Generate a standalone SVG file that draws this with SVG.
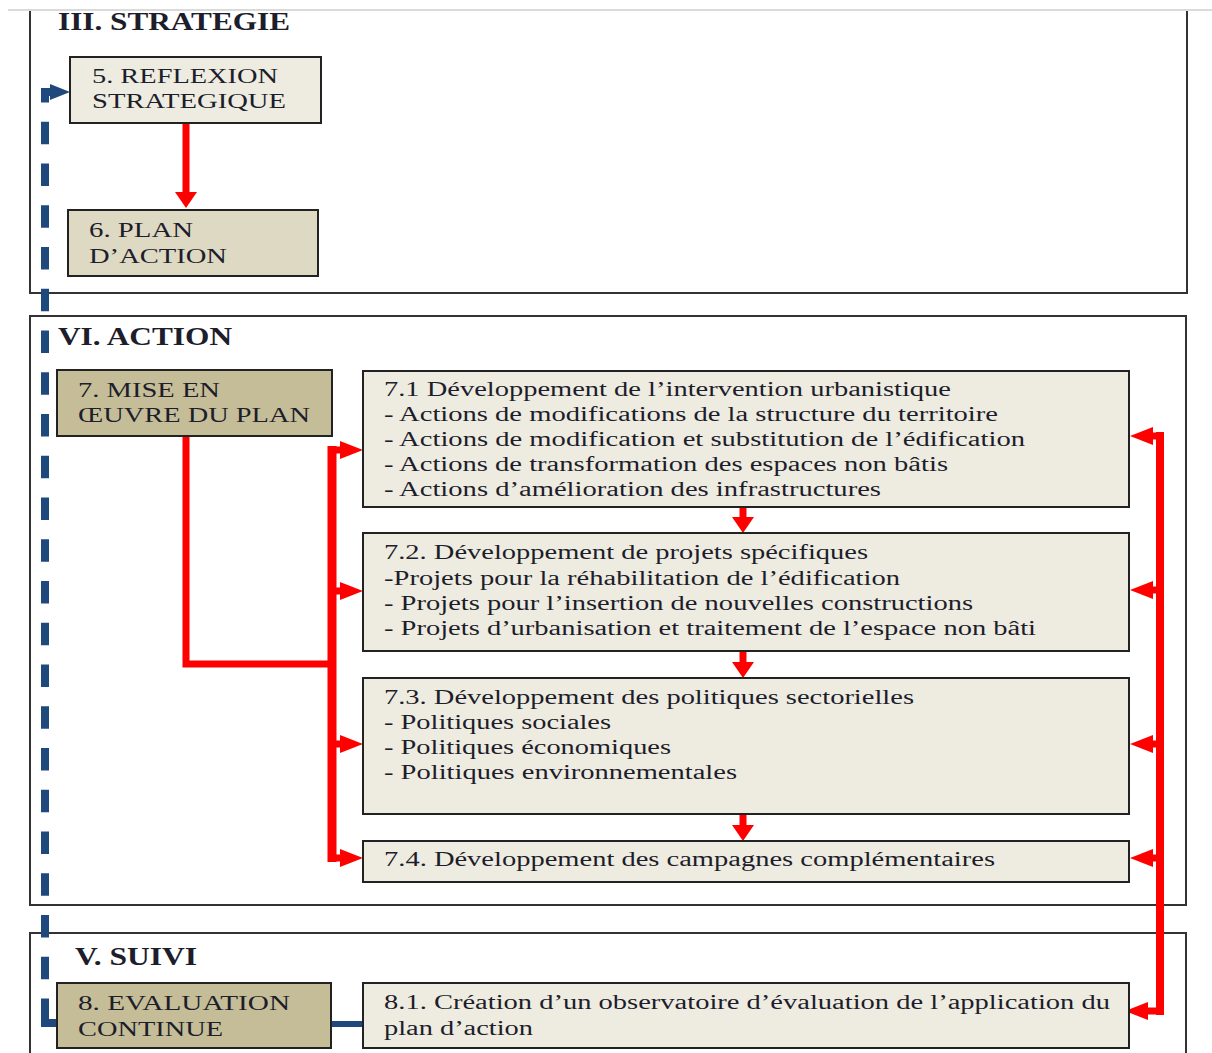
<svg xmlns="http://www.w3.org/2000/svg" width="1212" height="1053" viewBox="0 0 1212 1053">
<style>
.sec{fill:#fff;stroke:#333;stroke-width:2}
.box{stroke:#222;stroke-width:2}
.light{fill:#EEECE1}
.mid{fill:#DDD9C3}
.dark{fill:#C4BD97}
text{font-family:"Liberation Serif","Times New Roman",serif;fill:#1d1d2b}
.title{font-size:25px;font-weight:bold}
.lbl{font-size:22px}
.body{font-size:20px}
.red{fill:none;stroke:#FF0000;stroke-linejoin:miter}
.blue{fill:none;stroke:#1F497D;stroke-width:8}
</style>
<defs>
<marker id="aSide" viewBox="0 -10 24 20" refX="0" refY="0" markerWidth="24" markerHeight="20" markerUnits="userSpaceOnUse" orient="auto">
<path d="M0,-9 L23,0 L0,9 z" fill="#FF0000"/>
</marker>
<marker id="aDown" viewBox="0 -12 17 24" refX="0" refY="0" markerWidth="17" markerHeight="24" markerUnits="userSpaceOnUse" orient="auto">
<path d="M0,-11 L16,0 L0,11 z" fill="#FF0000"/>
</marker>
<marker id="aBlue" viewBox="0 -9 21 18" refX="0" refY="0" markerWidth="21" markerHeight="18" markerUnits="userSpaceOnUse" orient="auto">
<path d="M0,-8 L20,0 L0,8 z" fill="#1F497D"/>
</marker>
</defs>

<line x1="8" y1="10" x2="1212" y2="10" stroke="#dadada" stroke-width="2"/>

<g id="sec-strategie">
<path d="M30,11 V293 H1187 V11" fill="#fff" stroke="#333" stroke-width="2"/>
<text class="title" x="58" y="30" textLength="232" lengthAdjust="spacingAndGlyphs">III. STRATEGIE</text>
</g>
<g id="sec-action">
<rect class="sec" x="30" y="316" width="1156" height="589"/>
<text class="title" x="58" y="345" textLength="174" lengthAdjust="spacingAndGlyphs">VI. ACTION</text>
</g>
<g id="sec-suivi">
<rect class="sec" x="30" y="933" width="1156" height="130"/>
<text class="title" x="75" y="965" textLength="122" lengthAdjust="spacingAndGlyphs">V. SUIVI</text>
</g>

<g id="connectors">
<path class="blue" d="M57,92 H45 V1023" stroke-dasharray="22.5 19.25"/>
<path class="blue" d="M45,1000 V1023 H57" stroke-linejoin="miter"/>
<path d="M44,92 H50" stroke="#1F497D" stroke-width="6" marker-end="url(#aBlue)"/>
<path d="M331,1024 H363" stroke="#1F497D" stroke-width="6"/>

<path class="red" stroke-width="7" d="M186,123 V192" marker-end="url(#aDown)"/>
<path class="red" stroke-width="7" d="M743,507 V517" marker-end="url(#aDown)"/>
<path class="red" stroke-width="7" d="M743,651 V662" marker-end="url(#aDown)"/>
<path class="red" stroke-width="7" d="M743,814 V825" marker-end="url(#aDown)"/>

<path class="red" stroke-width="7" d="M186,436 V664 H332"/>
<path class="red" stroke-width="9" d="M332,446 V862"/>
<path class="red" stroke-width="7" d="M328,450 H340" marker-end="url(#aSide)"/>
<path class="red" stroke-width="7" d="M332,591 H340" marker-end="url(#aSide)"/>
<path class="red" stroke-width="7" d="M332,744 H340" marker-end="url(#aSide)"/>
<path class="red" stroke-width="7" d="M328,858 H340" marker-end="url(#aSide)"/>

<path class="red" stroke-width="8" d="M1160,432 V1015"/>
<path class="red" stroke-width="7" d="M1164,436 H1153" marker-end="url(#aSide)"/>
<path class="red" stroke-width="7" d="M1160,590 H1153" marker-end="url(#aSide)"/>
<path class="red" stroke-width="7" d="M1160,744 H1153" marker-end="url(#aSide)"/>
<path class="red" stroke-width="7" d="M1160,858 H1153" marker-end="url(#aSide)"/>
<path class="red" stroke-width="7" d="M1164,1011 H1148" marker-end="url(#aSide)"/>
</g>

<g id="n5">
<rect class="box light" x="70" y="57" width="251" height="66"/>
<text class="lbl" x="92" y="83" textLength="186" lengthAdjust="spacingAndGlyphs">5. REFLEXION</text>
<text class="lbl" x="92" y="108" textLength="194" lengthAdjust="spacingAndGlyphs">STRATEGIQUE</text>
</g>
<g id="n6">
<rect class="box mid" x="68" y="210" width="250" height="66"/>
<text class="lbl" x="89" y="237" textLength="104" lengthAdjust="spacingAndGlyphs">6. PLAN</text>
<text class="lbl" x="89" y="263" textLength="138" lengthAdjust="spacingAndGlyphs">D’ACTION</text>
</g>
<g id="n7">
<rect class="box dark" x="57" y="370" width="275" height="66"/>
<text class="lbl" x="78" y="397" textLength="142" lengthAdjust="spacingAndGlyphs">7. MISE EN</text>
<text class="lbl" x="78" y="422" textLength="232" lengthAdjust="spacingAndGlyphs">ŒUVRE DU PLAN</text>
</g>
<g id="n71">
<rect class="box light" x="363" y="371" width="766" height="136"/>
<text class="body" x="384" y="396" textLength="567" lengthAdjust="spacingAndGlyphs">7.1 Développement de l’intervention urbanistique</text>
<text class="body" x="384" y="421" textLength="614" lengthAdjust="spacingAndGlyphs">- Actions de modifications de la structure du territoire</text>
<text class="body" x="384" y="446" textLength="641" lengthAdjust="spacingAndGlyphs">- Actions de modification et substitution de l’édification</text>
<text class="body" x="384" y="471" textLength="564" lengthAdjust="spacingAndGlyphs">- Actions de transformation des espaces non bâtis</text>
<text class="body" x="384" y="496" textLength="497" lengthAdjust="spacingAndGlyphs">- Actions d’amélioration des infrastructures</text>
</g>
<g id="n72">
<rect class="box light" x="363" y="533" width="766" height="118"/>
<text class="body" x="384" y="559" textLength="484" lengthAdjust="spacingAndGlyphs">7.2. Développement de projets spécifiques</text>
<text class="body" x="384" y="585" textLength="516" lengthAdjust="spacingAndGlyphs">-Projets pour la réhabilitation de l’édification</text>
<text class="body" x="384" y="610" textLength="589" lengthAdjust="spacingAndGlyphs">- Projets pour l’insertion de nouvelles constructions</text>
<text class="body" x="384" y="635" textLength="652" lengthAdjust="spacingAndGlyphs">- Projets d’urbanisation et traitement de l’espace non bâti</text>
</g>
<g id="n73">
<rect class="box light" x="363" y="678" width="766" height="136"/>
<text class="body" x="384" y="704" textLength="530" lengthAdjust="spacingAndGlyphs">7.3. Développement des politiques sectorielles</text>
<text class="body" x="384" y="729" textLength="227" lengthAdjust="spacingAndGlyphs">- Politiques sociales</text>
<text class="body" x="384" y="754" textLength="287" lengthAdjust="spacingAndGlyphs">- Politiques économiques</text>
<text class="body" x="384" y="779" textLength="353" lengthAdjust="spacingAndGlyphs">- Politiques environnementales</text>
</g>
<g id="n74">
<rect class="box light" x="363" y="841" width="766" height="41"/>
<text class="body" x="384" y="866" textLength="611" lengthAdjust="spacingAndGlyphs">7.4. Développement des campagnes complémentaires</text>
</g>
<g id="n8">
<rect class="box dark" x="57" y="983" width="274" height="65"/>
<text class="lbl" x="78" y="1010" textLength="212" lengthAdjust="spacingAndGlyphs">8. EVALUATION</text>
<text class="lbl" x="78" y="1036" textLength="145" lengthAdjust="spacingAndGlyphs">CONTINUE</text>
</g>
<g id="n81">
<rect class="box light" x="363" y="983" width="766" height="65"/>
<text class="body" x="384" y="1009" textLength="726" lengthAdjust="spacingAndGlyphs">8.1. Création d’un observatoire d’évaluation de l’application du</text>
<text class="body" x="384" y="1035" textLength="149" lengthAdjust="spacingAndGlyphs">plan d’action</text>
</g>
</svg>
